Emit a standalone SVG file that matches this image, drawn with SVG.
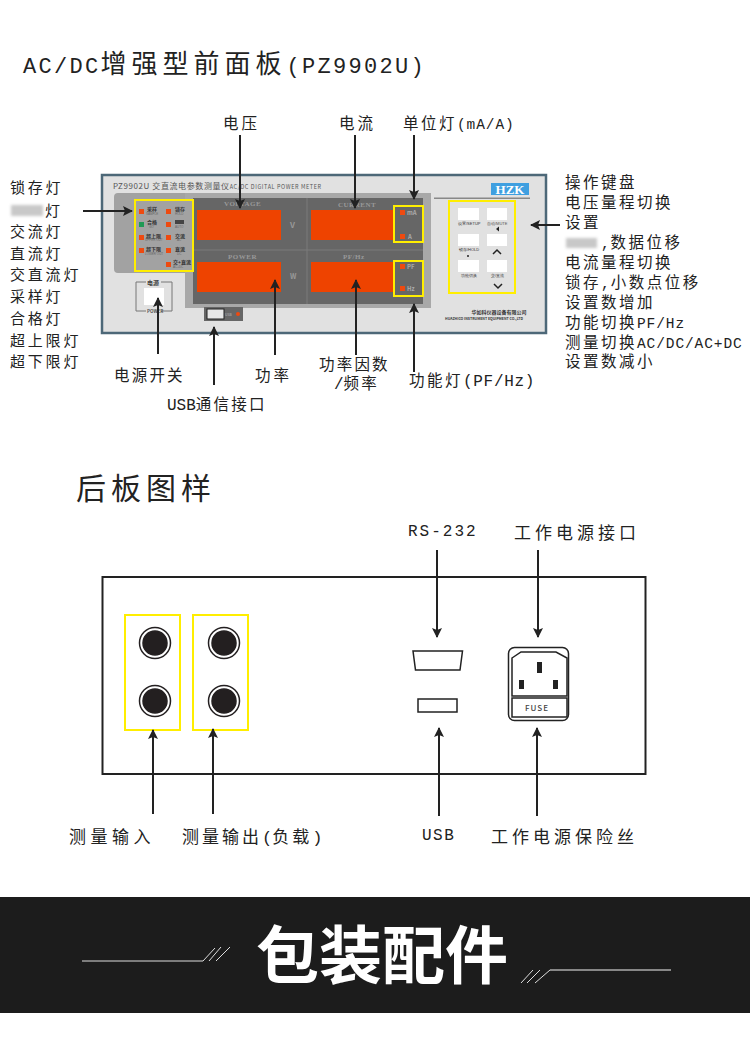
<svg xmlns="http://www.w3.org/2000/svg" width="750" height="1043" viewBox="0 0 750 1043">
<style>
text{font-family:"Noto Sans CJK SC","Liberation Sans",sans-serif;fill:#222}
.l{font-size:15px;letter-spacing:2.8px}
.r{font-size:15.500px;letter-spacing:2.500px}
.h{font-size:15.500px;letter-spacing:2.200px}
.b{font-size:17px;letter-spacing:4px}
.m{font-family:"Liberation Mono",monospace;font-size:16px;letter-spacing:0}
.r .m{font-size:14.500px;letter-spacing:.9px}
.t{font-size:5px;font-weight:700;fill:#333}
.e{font-size:3px;fill:#666;font-family:"Liberation Sans",sans-serif}
.led{fill:#ee4a10}
.disp{fill:#ee4300}
.y{fill:none;stroke:#ffee00;stroke-width:2}
.key{fill:#fff}
.arr{stroke:#222;stroke-width:2;fill:none;marker-end:url(#a)}
.blk{fill:#c8c8c8;filter:url(#b)}
.sm{font-size:7px;fill:#999;font-family:"Liberation Serif",serif;font-weight:700;letter-spacing:.5px}
.hatch{stroke:#ddd;stroke-width:1;fill:none}
</style>
<defs>
<marker id="a" markerUnits="userSpaceOnUse" markerWidth="12" markerHeight="12" refX="9" refY="5" orient="auto"><path d="M0 0L10 5L0 10L2 5Z" fill="#222"/></marker>
<filter id="b" x="-40%" y="-40%" width="180%" height="180%"><feGaussianBlur stdDeviation="1.800"/></filter>
</defs>
<rect width="750" height="1043" fill="#fff"/>
<text id="title1" x="23" y="73" font-size="26" letter-spacing="5"><tspan class="m" style="font-size:22px;letter-spacing:2.300px">AC/DC</tspan>增强型前面板<tspan class="m" style="font-size:22px;letter-spacing:2.300px">(PZ9902U)</tspan></text>
<text id="title2" x="76" y="499" font-size="30" letter-spacing="5">后板图样</text>

<g id="front-panel">
<rect x="102" y="175" width="444" height="158" fill="#e1e1e1" stroke="#4d6878" stroke-width="2.500"/>
<text x="113" y="189" font-size="8" letter-spacing=".6" style="fill:#555">PZ9902U 交直流电参数测量仪<tspan font-size="5.500">AC/DC DIGITAL POWER METER</tspan></text>
<rect x="114" y="193" width="90" height="80" rx="4" fill="#a2a2a2"/>
<rect x="185" y="193" width="246" height="115" fill="#a8a8a8"/>
<rect x="193" y="198" width="230" height="106" fill="#666"/>
<path d="M193 250H423M307 198V304" stroke="#7a7a7a" stroke-width="1"/>
<rect x="135" y="200" width="58" height="71" fill="#a2a2a2"/>
<rect class="disp" x="197" y="210" width="84" height="30"/>
<rect class="disp" x="197" y="262" width="84" height="30"/>
<rect class="disp" x="311" y="210" width="84" height="30"/>
<rect class="disp" x="311" y="262" width="84" height="30"/>
<text class="sm" x="224" y="206">VOLTAGE</text>
<text class="sm" x="338" y="207">CURRENT</text>
<text class="sm" x="228" y="259">POWER</text>
<text class="sm" x="343" y="259">PF/Hz</text>
<text x="290" y="228" font-size="8" style="fill:#999" font-weight="700">V</text>
<text x="290" y="279" font-size="7" style="fill:#999" font-weight="700">W</text>
<rect class="y" x="135" y="200" width="58" height="71"/>
<rect class="y" x="394" y="206" width="29" height="36"/>
<rect class="y" x="394" y="261" width="29" height="35"/>
<g class="leds">
<rect class="led" x="139" y="209" width="5" height="5"/>
<rect x="139" y="222" width="5" height="5" fill="#1f9a55"/>
<rect class="led" x="139" y="235" width="5" height="5"/>
<rect class="led" x="139" y="248" width="5" height="5"/>
<rect class="led" x="166" y="209" width="5" height="5"/>
<rect class="led" x="166" y="222" width="5" height="5"/>
<rect class="led" x="166" y="235" width="5" height="5"/>
<rect class="led" x="166" y="248" width="5" height="5"/>
<rect class="led" x="166" y="262" width="5" height="5"/>
<text class="t" x="147" y="211">采样</text><text class="e" x="146" y="215">SAMPLE</text>
<text class="t" x="147" y="224">合格</text><text class="e" x="149" y="228">GO</text>
<text class="t" x="146" y="238">超上限</text><text class="e" x="145" y="241">UPPER OUT</text>
<text class="t" x="146" y="251">超下限</text><text class="e" x="145" y="255">LOWER OUT</text>
<text class="t" x="175" y="211">锁存</text><text class="e" x="175" y="215">HOLD</text>
<rect x="175" y="220" width="9" height="4" fill="#444"/><text class="e" x="175" y="228">AUTO</text>
<text class="t" x="175" y="238">交流</text><text class="e" x="177" y="241">AC</text>
<text class="t" x="175" y="251">直流</text><text class="e" x="177" y="255">DC</text>
<text class="t" x="173" y="264">交+直流</text><text class="e" x="173" y="268">AC+DC</text>
</g>
<rect class="led" x="400" y="210" width="5" height="5"/>
<rect class="led" x="400" y="234" width="5" height="5"/>
<rect class="led" x="400" y="264" width="5" height="5"/>
<rect class="led" x="400" y="286" width="5" height="5"/>
<text x="407" y="215" font-size="6" font-weight="700" style="fill:#aaa">mA</text>
<text x="408" y="239" font-size="6" font-weight="700" style="fill:#aaa">A</text>
<text x="407" y="269" font-size="6" font-weight="700" style="fill:#aaa">PF</text>
<text x="407" y="291" font-size="6" font-weight="700" style="fill:#aaa">Hz</text>
<g id="power-switch">
<path d="M146 282H136V311H146M161 282H172V311H161" fill="none" stroke="#777" stroke-width="1"/>
<text x="147" y="285" font-size="6" font-weight="700" style="fill:#444">电源</text>
<rect class="key" x="144" y="288" width="20" height="17"/>
<text x="147" y="313" font-size="4.500" font-weight="700" style="fill:#555">POWER</text>
</g>
<g id="usb-port">
<rect x="204" y="307" width="39" height="14" fill="#666"/>
<rect x="207" y="309" width="17" height="10" fill="#e8e8e8" stroke="#222" stroke-width="1"/>
<text x="225" y="316" font-size="3.500" style="fill:#bbb">USB</text>
<circle cx="238" cy="314" r="2" fill="#ee4a10"/>
</g>
<g id="logo">
<rect x="491" y="183" width="38" height="12" fill="#3f9fe0"/>
<text x="510" y="194" text-anchor="middle" font-size="13" font-weight="700" style="fill:#fff;font-family:'Liberation Serif',serif">HZK</text>
<rect x="434" y="197.500" width="96" height="1.500" fill="#888"/>
</g>
<g id="keypad">
<rect class="y" x="449" y="201" width="66" height="92"/>
<rect class="key" x="458" y="208" width="21" height="12"/>
<rect class="key" x="487" y="208" width="20" height="12"/>
<rect class="key" x="458" y="234" width="21" height="12"/>
<rect class="key" x="487" y="234" width="20" height="12"/>
<rect class="key" x="458" y="260" width="21" height="12"/>
<rect class="key" x="487" y="260" width="20" height="12"/>
<text class="e" x="458" y="225" style="font-size:4px;fill:#333">设置/SETUP</text>
<text class="e" x="487" y="225" style="font-size:4px;fill:#555">自动/MUTE</text>
<path d="M496 229L499 226.500V231.500Z" fill="#222"/>
<text class="e" x="459" y="251" style="font-size:4px;fill:#333">锁存/HOLD</text>
<circle cx="468" cy="256" r="1" fill="#222"/>
<path d="M493 254L497 250L501 254" fill="none" stroke="#222" stroke-width="1.500"/>
<text class="e" x="461" y="277" style="font-size:4px;fill:#333">功能切换</text>
<text class="e" x="491" y="277" style="font-size:4px;fill:#333">交/直流</text>
<path d="M494 284L498 288L502 284" fill="none" stroke="#222" stroke-width="1.500"/>
</g>
<text x="499" y="314" text-anchor="middle" font-size="5" font-weight="700" style="fill:#333">华如科仪器设备有限公司</text>
<text x="484" y="320" text-anchor="middle" font-size="3.500" font-weight="700" style="fill:#333">HUAZHICO INSTRUMENT EQUIPMENT CO.,LTD</text>
</g>

<g id="rear-panel">
<rect x="102.500" y="577" width="543" height="197" fill="#fff" stroke="#222" stroke-width="2"/>
<rect class="y" x="125" y="615" width="55" height="115"/>
<rect class="y" x="193" y="615" width="55" height="115"/>
<g fill="#231f20" stroke="#231f20" stroke-width="1.500">
<g id="jack1"><circle cx="155" cy="643" r="15.500" fill="#fff"/><circle cx="155" cy="643" r="12"/></g>
<g id="jack2"><circle cx="155" cy="701" r="15.500" fill="#fff"/><circle cx="155" cy="701" r="12"/></g>
<g id="jack3"><circle cx="224" cy="643" r="15.500" fill="#fff"/><circle cx="224" cy="643" r="12"/></g>
<g id="jack4"><circle cx="224" cy="701" r="15.500" fill="#fff"/><circle cx="224" cy="701" r="12"/></g>
</g>
<polygon id="rs232" points="413,651 462.500,651 460,670 415.500,670" fill="#fff" stroke="#222" stroke-width="1.500"/>
<rect id="usb" x="418" y="699" width="39" height="13" fill="#fff" stroke="#222" stroke-width="1.500"/>
<g id="power-socket">
<rect x="508.500" y="647.500" width="60" height="73" rx="6" fill="#fff" stroke="#222" stroke-width="1.500"/>
<path d="M512 658L521 652H556L567 658V696H512Z" fill="#fff" stroke="#222" stroke-width="1.500"/>
<rect x="512" y="698" width="55" height="19" fill="#fff" stroke="#222" stroke-width="1.500"/>
<rect x="537" y="662" width="5" height="11" fill="#222"/>
<rect x="519" y="680" width="5" height="9" fill="#222"/>
<rect x="553" y="680" width="5" height="9" fill="#222"/>
<text x="537" y="711" text-anchor="middle" font-size="8" font-weight="500" letter-spacing="1" style="fill:#444">FUSE</text>
</g>
</g>

<g id="connectors">
<path class="arr" d="M240 135V208"/>
<path class="arr" d="M355 135V208"/>
<path class="arr" d="M414 135V199"/>
<path class="arr" d="M83 211H132"/>
<path class="arr" d="M560 225H531"/>
<path class="arr" d="M158 354V298"/>
<path class="arr" d="M275 355V280"/>
<path class="arr" d="M356 355V280"/>
<path class="arr" d="M414 372V304"/>
<path class="arr" d="M214 385V327"/>
<path class="arr" d="M437 550V637"/>
<path class="arr" d="M538 550V637"/>
<path class="arr" d="M153 814V730"/>
<path class="arr" d="M213 814V729"/>
<path class="arr" d="M439 816V728"/>
<path class="arr" d="M537 816V728"/>
</g>

<g id="labels-left">
<text class="l" x="10" y="193">锁存灯</text>
<rect class="blk" x="11" y="205" width="32" height="11"/>
<text class="l" x="45" y="216">灯</text>
<text class="l" x="10" y="237">交流灯</text>
<text class="l" x="10" y="259">直流灯</text>
<text class="l" x="10" y="280">交直流灯</text>
<text class="l" x="10" y="302">采样灯</text>
<text class="l" x="10" y="324">合格灯</text>
<text class="l" x="10" y="346">超上限灯</text>
<text class="l" x="10" y="367">超下限灯</text>
</g>
<g id="labels-right">
<text class="r" x="565" y="188">操作键盘</text>
<text class="r" x="565" y="208">电压量程切换</text>
<text class="r" x="565" y="228">设置</text>
<rect class="blk" x="566" y="238" width="31" height="10"/>
<text class="r" x="601" y="248"><tspan class="m">,</tspan>数据位移</text>
<text class="r" x="565" y="268">电流量程切换</text>
<text class="r" x="565" y="288">锁存<tspan class="m">,</tspan>小数点位移</text>
<text class="r" x="565" y="308">设置数增加</text>
<text class="r" x="565" y="328">功能切换<tspan class="m">PF/Hz</tspan></text>
<text class="r" x="565" y="348">测量切换<tspan class="m">AC/DC/AC+DC</tspan></text>
<text class="r" x="565" y="367">设置数减小</text>
</g>
<g id="labels-top">
<text class="h" x="223" y="129" style="letter-spacing:3px">电压</text>
<text class="h" x="339" y="129" style="letter-spacing:3px">电流</text>
<text class="r" x="403" y="129">单位灯<tspan class="m">(mA/A)</tspan></text>
<text class="h" x="114" y="381">电源开关</text>
<text class="h" x="255" y="381" style="letter-spacing:3px">功率</text>
<text class="h" x="319" y="369.500">功率因数</text>
<text class="h" x="334" y="389"><tspan class="m">/</tspan>频率</text>
<text class="r" x="409" y="386">功能灯<tspan class="m" style="font-size:16px;letter-spacing:.7px">(PF/Hz)</tspan></text>
<text class="h" x="167" y="410"><tspan class="m">USB</tspan>通信接口</text>
</g>
<g id="labels-rear">
<text x="408" y="536" class="m" style="letter-spacing:2px">RS-232</text>
<text class="b" x="514" y="539">工作电源接口</text>
<text class="b" style="letter-spacing:4.500px" x="69" y="843">测量输入</text>
<text class="b" style="letter-spacing:3px" x="182" y="843">测量输出<tspan class="m" style="font-size:17px">(</tspan>负载<tspan class="m" style="font-size:17px">)</tspan></text>
<text x="422" y="840" class="m" style="letter-spacing:1.500px">USB</text>
<text class="b" x="491" y="843">工作电源保险丝</text>
</g>

<g id="banner">
<rect y="897" width="750" height="116" fill="#1c1c1c"/>
<path d="M82 961H203L215 948M209 961L221 947M216 961L230 947" class="hatch"/>
<path d="M521 983L533 970M527 983L540 970M535 983L550 970" class="hatch"/>
<rect x="550" y="969" width="121" height="2" fill="#888"/>
<text x="256" y="978" font-size="63" font-weight="700" style="fill:#fff">包装配件</text>
</g>
</svg>
